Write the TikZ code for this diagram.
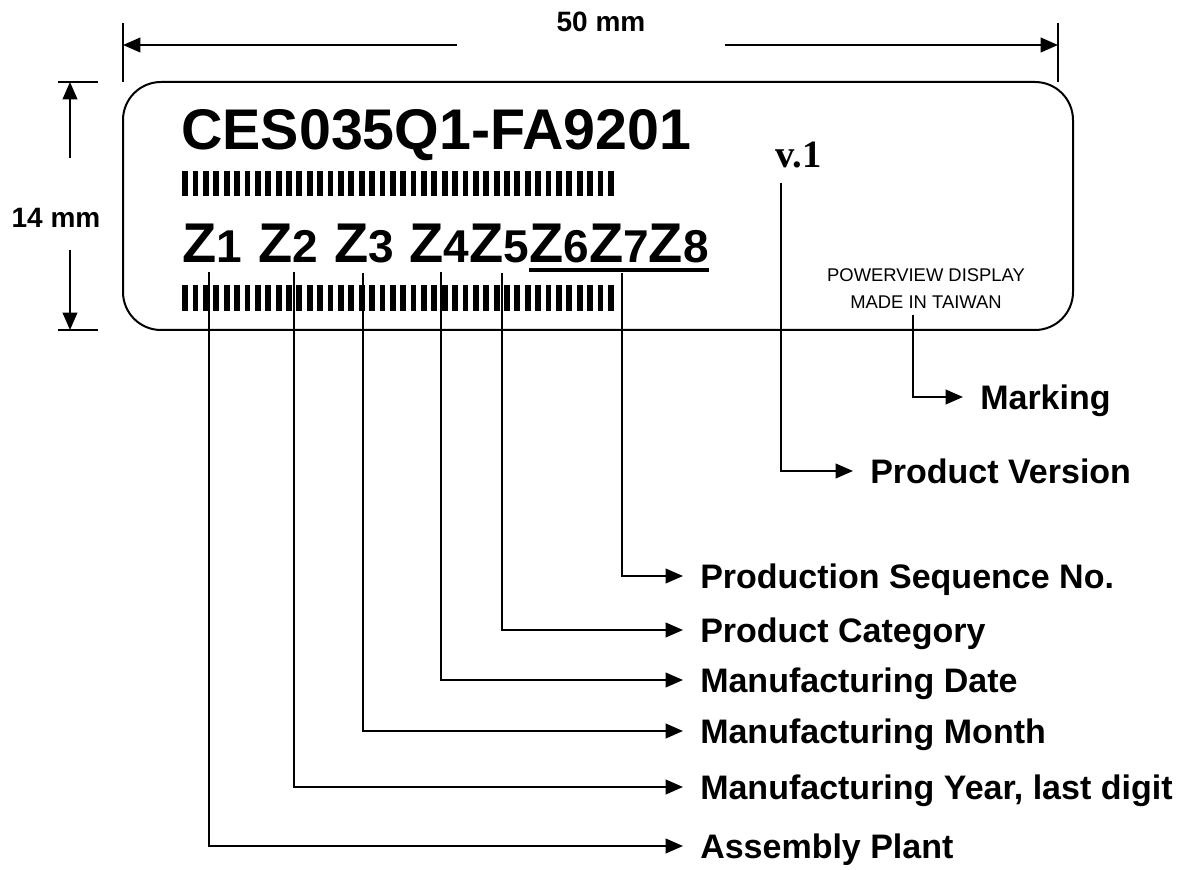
\documentclass[tikz,border=0pt]{standalone}
\usepackage{fontspec}
\setmainfont{Liberation Sans}
\newfontfamily\verfont{Liberation Serif}
\usetikzlibrary{arrows.meta,calc}

\tikzset{
	edge/.style={line width=1.3pt},
	arr/.style={edge, -{Triangle[length=13pt,width=11pt]}},
	lbl/.style={anchor=west, inner xsep=12.75pt, text height=18.3pt, text depth=0pt,
		font=\fontsize{25.5}{30}\selectfont\bfseries},
	zchar/.style={anchor=base west, inner xsep=0pt, inner ysep=6.75pt,
		font=\fontsize{42}{50}\selectfont\bfseries},
	dimtxt/.style={font=\fontsize{21}{25}\selectfont\bfseries},
}
\newcommand\zdigit[1]{{\fontsize{34.5}{40}\selectfont #1}}

\begin{document}
\begin{tikzpicture}[x=0.75pt,y=-0.75pt]
		%%%%% START %%%%%
		\useasboundingbox (0,0) rectangle (1190,870);
		
		% width 50 mm
		\coordinate (wl) at (123,45);
		\coordinate (wr) at (1058,45);
		\coordinate (wlm) at (457,45);
		\coordinate (wrm) at (725,45);
		\draw[edge] (123,23) -- (123,82);
		\draw[edge] (1058,23) -- (1058,82);
		\node[dimtxt] (w) at (601,22) {50 mm};
		\draw[arr] (wlm) -- (wl);
		\draw[arr] (wrm) -- (wr);
		
		% height 14 mm
		\coordinate (ht) at (70,82);
		\coordinate (hb) at (70,330);
		\coordinate (htm) at (70,158);
		\coordinate (hbm) at (70,250);
		\draw[edge] (58,82) -- (98,82);
		\draw[edge] (58,330) -- (98,330);
		\node[dimtxt] (h) at (56,218) {14 mm};
		\draw[arr] (htm) -- (ht);
		\draw[arr] (hbm) -- (hb);
		
		% the label itself
		\draw[line width=1.5pt, rounded corners=28.5pt] (123,82) rectangle (1073,330);
		
		\node[anchor=base west, inner sep=0pt, font=\fontsize{43}{50}\selectfont\bfseries] (pn) at (181,150) {CES035Q1-FA9201};
		
		\foreach \i in {0,...,41} {
			\fill (182.3+10.38*\i,171) rectangle ++(5.8,25);
			\fill (182.3+10.38*\i,285) rectangle ++(5.8,26);
		}
		
		\node[zchar] (z1) at (182,263) {Z\zdigit{1}};
		\node[zchar] (z2) at (258,263) {Z\zdigit{2}};
		\node[zchar] (z3) at (334,263) {Z\zdigit{3}};
		\node[zchar] (z4) at (409,263) {Z\zdigit{4}};
		\node[zchar] (z5) at (469,263) {Z\zdigit{5}};
		\node[zchar] (z6) at (529,263) {Z\zdigit{6}Z\zdigit{7}Z\zdigit{8}};
		\draw[line width=3pt] ([yshift=-5.25pt]z6.base west) -- ([yshift=-5.25pt]z6.base east);
		
		\node[anchor=base west, inner sep=0pt, font=\fontsize{29}{32}\selectfont\verfont\bfseries] (ver) at (775,168) {v.1};
		\node[inner sep=0pt, align=center, font=\fontsize{13.8}{20.25}\selectfont] (made) at (926,288.5) {POWERVIEW DISPLAY\\MADE IN TAIWAN};
		
		% meanings
		\node[lbl] (mark) at (963,397) {Marking};
		\node[lbl] (pver) at (853,471) {Product Version};
		\node[lbl] (seq) at (683,576) {Production Sequence No.};
		\node[lbl] (cat) at (683,630) {Product Category};
		\node[lbl] (date) at (683,680) {Manufacturing Date};
		\node[lbl] (month) at (683,731) {Manufacturing Month};
		\node[lbl] (year) at (683,787) {Manufacturing Year, last digit};
		\node[lbl] (plant) at (683,846) {Assembly Plant};
		
		\coordinate (mk) at ([xshift=-9.75pt,yshift=-4.8pt]made.south);
		\draw[arr] (mk) |- (mark.west);
		\coordinate (vr) at ([xshift=4.5pt,yshift=-10.5pt]ver.south west);
		\draw[arr] (vr) |- (pver.west);
		
		\foreach \z/\t/\s in {z1/plant/-2.25pt, z2/year/4.5pt, z3/month/-0.75pt, z4/date/1.5pt, z5/cat/2.25pt, z6/seq/2.25pt}
			\draw[arr] ([xshift=\s]\z.south) |- (\t.west);
		
		%%%%% END %%%%%
\end{tikzpicture}
\end{document}
